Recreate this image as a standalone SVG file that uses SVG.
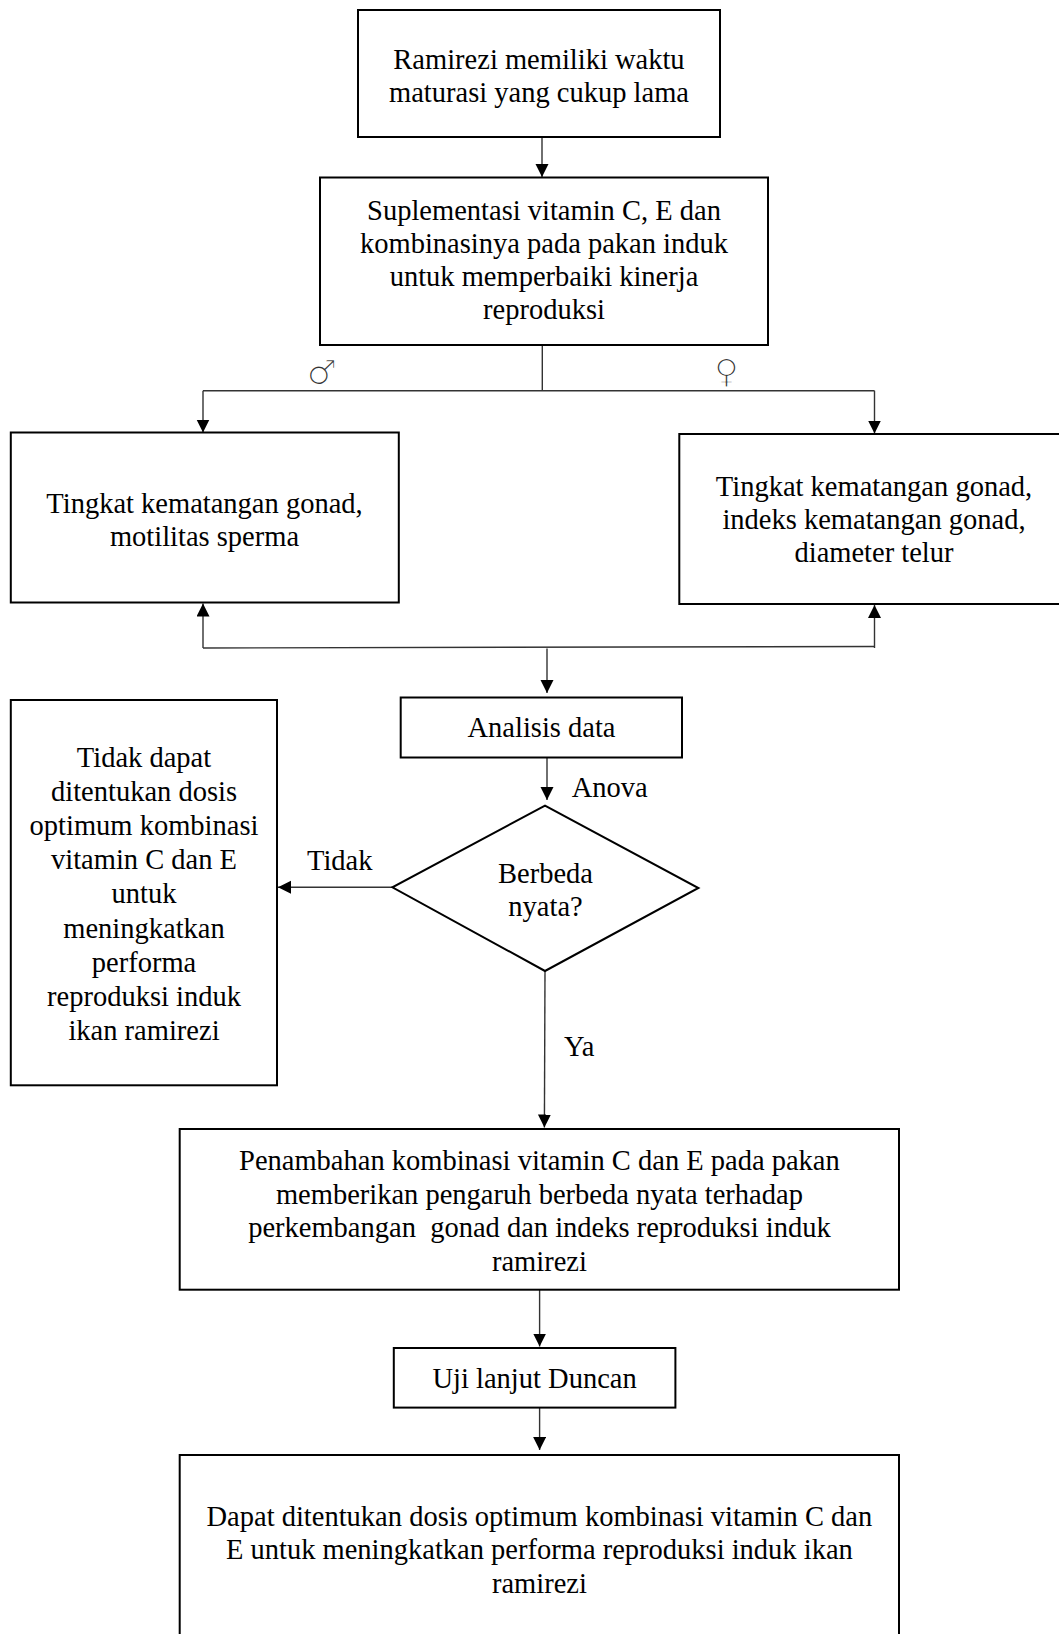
<svg xmlns="http://www.w3.org/2000/svg" width="1059" height="1634" viewBox="0 0 1059 1634">
<style>
.box{fill:#fff;stroke:#000;stroke-width:2}
.t{font-family:"Liberation Serif","Times New Roman",serif;font-size:28.5px;fill:#000;text-anchor:middle}
.l{font-family:"Liberation Serif","Times New Roman",serif;font-size:28.5px;fill:#000}
.sym{font-family:"DejaVu Sans",sans-serif;font-size:34px;fill:#333;stroke:#fff;stroke-width:1.5;text-anchor:middle}
.c{fill:none;stroke:#333;stroke-width:1.4}
.a{marker-end:url(#ah)}
</style>
<defs>
<marker id="ah" markerUnits="userSpaceOnUse" markerWidth="14" markerHeight="14" refX="13" refY="6.5" orient="auto">
<path d="M0,0 L13,6.5 L0,13 z" fill="#000"/>
</marker>
</defs>
<rect width="1059" height="1634" fill="#fff"/>
<g id="connectors">
<line class="c a" x1="542" y1="137" x2="542" y2="177"/>
<line class="c" x1="542.3" y1="345" x2="542.3" y2="390.7"/>
<line class="c" x1="203" y1="390.7" x2="874.5" y2="390.7"/>
<line class="c a" x1="203" y1="390.7" x2="203" y2="432.5"/>
<line class="c a" x1="874.5" y1="390.7" x2="874.5" y2="433.5"/>
<line class="c" x1="203" y1="648" x2="874.5" y2="646.5"/>
<line class="c a" x1="203" y1="648" x2="203" y2="603.5"/>
<line class="c a" x1="874.5" y1="648" x2="874.5" y2="605"/>
<line class="c a" x1="547" y1="648.5" x2="547" y2="693"/>
<line class="c a" x1="547" y1="758" x2="547" y2="800"/>
<line class="c a" x1="392.4" y1="887.3" x2="278" y2="887.3"/>
<line class="c a" x1="545" y1="971" x2="544.4" y2="1127.5"/>
<line class="c a" x1="539.6" y1="1290" x2="539.6" y2="1346.5"/>
<line class="c a" x1="539.6" y1="1408" x2="539.6" y2="1450"/>
<text class="sym" x="321.7" y="384">♂</text>
<text class="sym" x="726.5" y="383">♀</text>
<text class="l" x="571.7" y="796.5">Anova</text>
<text class="l" x="307" y="870">Tidak</text>
<text class="l" x="564" y="1056">Ya</text>
</g>
<g id="n1">
<rect class="box" x="358" y="10" width="362" height="127"/>
<text class="t" x="539" y="68.5">Ramirezi memiliki waktu</text>
<text class="t" x="539" y="101.5">maturasi yang cukup lama</text>
</g>
<g id="n2">
<rect class="box" x="320" y="177.5" width="448" height="167.5"/>
<text class="t" x="544" y="219.7">Suplementasi vitamin C, E dan</text>
<text class="t" x="544" y="253">kombinasinya pada pakan induk</text>
<text class="t" x="544" y="286">untuk memperbaiki kinerja</text>
<text class="t" x="544" y="319">reproduksi</text>
</g>
<g id="n3">
<rect class="box" x="10.8" y="432.5" width="388" height="170"/>
<text class="t" x="204.5" y="513">Tingkat kematangan gonad,</text>
<text class="t" x="204.5" y="546">motilitas sperma</text>
</g>
<g id="n4">
<rect class="box" x="679.3" y="434" width="390" height="170"/>
<text class="t" x="874" y="495.5">Tingkat kematangan gonad,</text>
<text class="t" x="874" y="528.6">indeks kematangan gonad,</text>
<text class="t" x="874" y="561.7">diameter telur</text>
</g>
<g id="n5">
<rect class="box" x="400.7" y="697.5" width="281.3" height="60"/>
<text class="t" x="541.5" y="737.3">Analisis data</text>
</g>
<g id="n6">
<polygon class="box" points="545,805.7 698.4,888 545,971 392.4,887.3"/>
<text class="t" x="545.5" y="883">Berbeda</text>
<text class="t" x="545.5" y="916">nyata?</text>
</g>
<g id="n7">
<rect class="box" x="10.8" y="700" width="266.2" height="385.3"/>
<text class="t" x="144" y="767">Tidak dapat</text>
<text class="t" x="144" y="801.1">ditentukan dosis</text>
<text class="t" x="144" y="835.2">optimum kombinasi</text>
<text class="t" x="144" y="869.3">vitamin C dan E</text>
<text class="t" x="144" y="903.4">untuk</text>
<text class="t" x="144" y="937.5">meningkatkan</text>
<text class="t" x="144" y="971.6">performa</text>
<text class="t" x="144" y="1005.7">reproduksi induk</text>
<text class="t" x="144" y="1039.8">ikan ramirezi</text>
</g>
<g id="n8">
<rect class="box" x="179.7" y="1129" width="719.3" height="160.7"/>
<text class="t" x="539.4" y="1169.8">Penambahan kombinasi vitamin C dan E pada pakan</text>
<text class="t" x="539.4" y="1203.5">memberikan pengaruh berbeda nyata terhadap</text>
<text class="t" x="539.4" y="1237.2" xml:space="preserve">perkembangan  gonad dan indeks reproduksi induk</text>
<text class="t" x="539.4" y="1271">ramirezi</text>
</g>
<g id="n9">
<rect class="box" x="393.8" y="1348" width="281.6" height="59.6"/>
<text class="t" x="534.6" y="1387.8">Uji lanjut Duncan</text>
</g>
<g id="n10">
<rect class="box" x="179.7" y="1455" width="719.3" height="186"/>
<text class="t" x="539.4" y="1525.5">Dapat ditentukan dosis optimum kombinasi vitamin C dan</text>
<text class="t" x="539.4" y="1559.3">E untuk meningkatkan performa reproduksi induk ikan</text>
<text class="t" x="539.4" y="1593">ramirezi</text>
</g>
</svg>
